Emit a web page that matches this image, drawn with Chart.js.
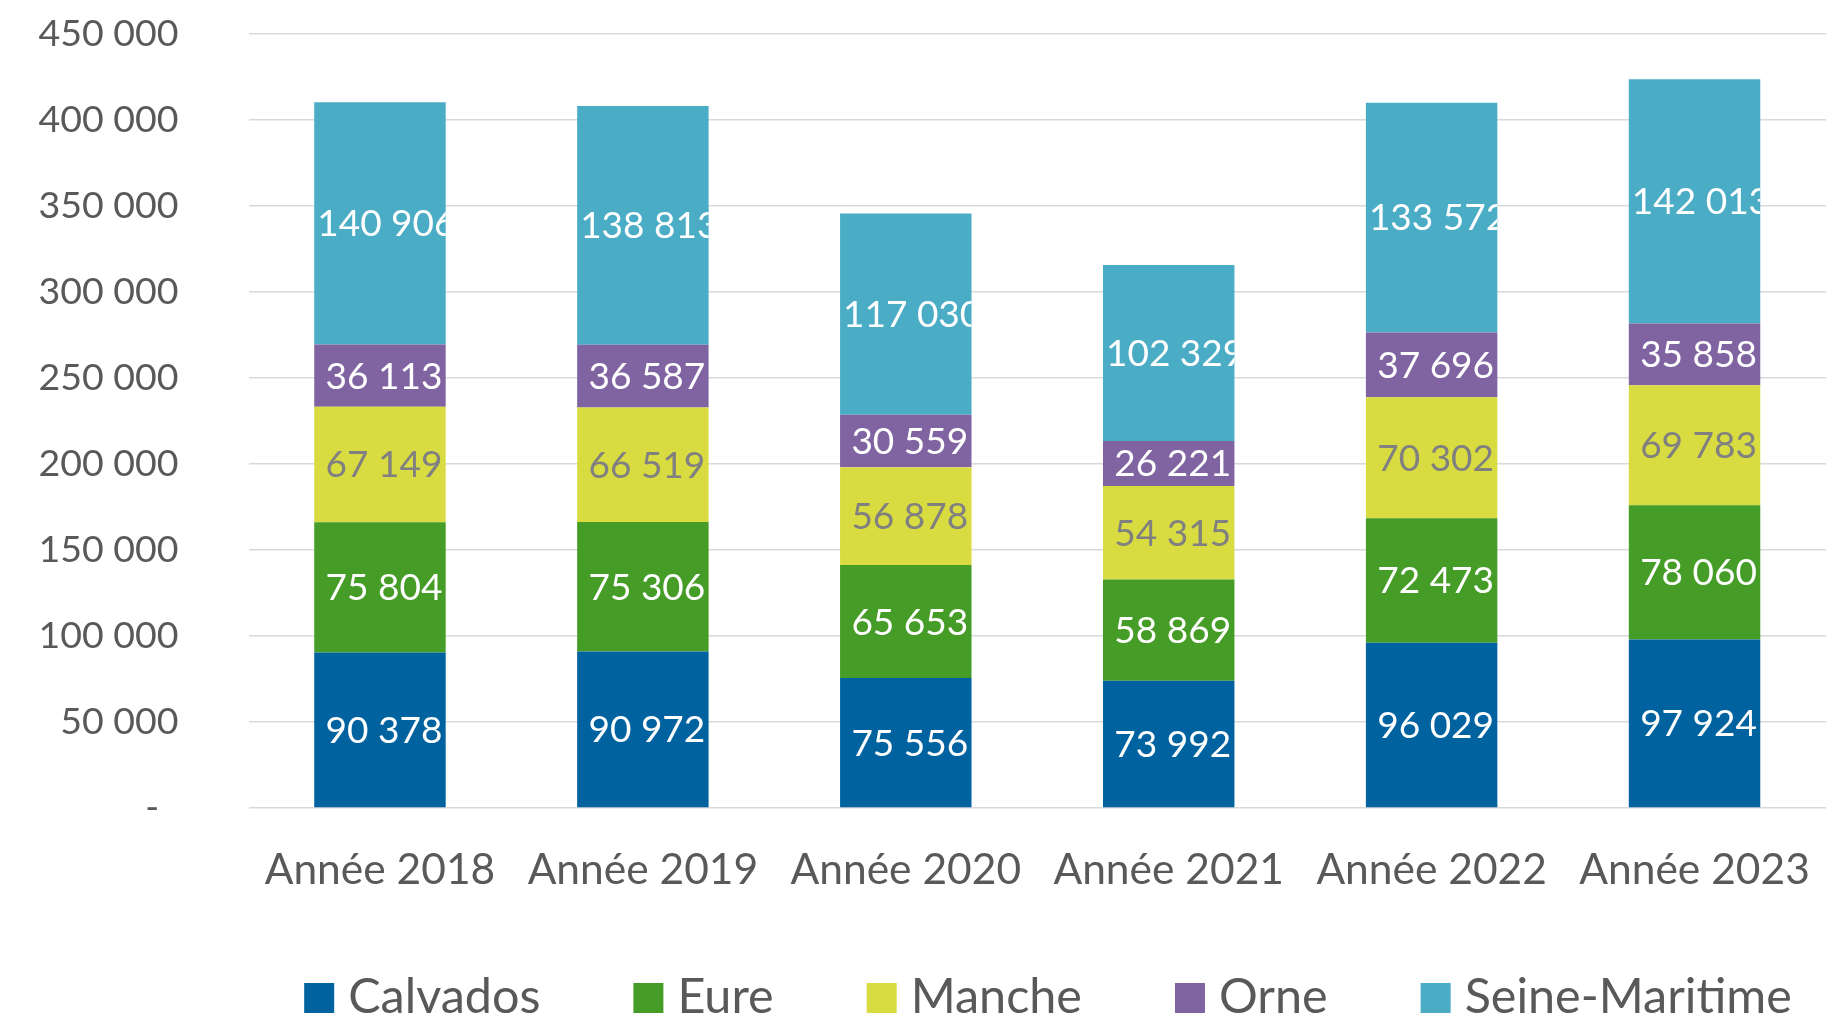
<!DOCTYPE html>
<html>
<head>
<meta charset="utf-8">
<script src="https://cdn.jsdelivr.net/npm/chart.js@4.4.1/dist/chart.umd.min.js"></script>
<style>
html,body{margin:0;padding:0;background:#ffffff;overflow:hidden;}
#wrap{width:1838px;height:1015px;position:relative;}
</style>
</head>
<body>
<div id="wrap"><canvas id="c"></canvas></div>
<script>
// ---- Data ----
const categories = ['Année 2018', 'Année 2019', 'Année 2020', 'Année 2021', 'Année 2022', 'Année 2023'];
const calvados      = [90378, 90972, 75556, 73992, 96029, 97924];
const eure          = [75804, 75306, 65653, 58869, 72473, 78060];
const manche        = [67149, 66519, 56878, 54315, 70302, 69783];
const orne          = [36113, 36587, 30559, 26221, 37696, 35858];
const seineMaritime = [140906, 138813, 117030, 102329, 133572, 142013];
const seriesNames   = ['Calvados', 'Eure', 'Manche', 'Orne', 'Seine-Maritime'];
const yTickValues   = [0, 50000, 100000, 150000, 200000, 250000, 300000, 350000, 400000, 450000];

// ---- Styles ----
const seriesColors = ['#0063A0', '#459C26', '#D9DC40', '#8064A2', '#4BACC6'];
const labelColors  = ['#ffffff', '#ffffff', '#808080', '#ffffff', '#ffffff'];
const FONT = 'Lato';
const TEXT_GREY = '#595959';

function fmt(n) {
  if (n === 0) return '-  ';
  return String(n).replace(/\B(?=(\d{3})+(?!\d))/g, ' ');
}

const seriesValues = [calvados, eure, manche, orne, seineMaritime];
const datasets = seriesNames.map((name, i) => ({
  label: name,
  data: seriesValues[i],
  backgroundColor: seriesColors[i],
  borderWidth: 0,
  barPercentage: 0.5,
  categoryPercentage: 1.0
}));

// Data labels inside segments, clipped to the bar
const dataLabelPlugin = {
  id: 'segLabels',
  afterDatasetsDraw(chart) {
    const ctx = chart.ctx;
    ctx.save();
    ctx.font = '37px ' + FONT;
    ctx.textBaseline = 'middle';
    ctx.textAlign = 'left';
    chart.data.datasets.forEach((ds, di) => {
      const meta = chart.getDatasetMeta(di);
      meta.data.forEach((bar, i) => {
        const v = ds.data[i];
        const txt = fmt(v);
        const left = bar.x - bar.width / 2;
        const top = Math.min(bar.y, bar.base);
        const h = Math.abs(bar.base - bar.y);
        const w = ctx.measureText(txt).width;
        const tx = Math.max(left + 3, bar.x - w / 2 + 4);
        const ty = (bar.y + bar.base) / 2 + 1;
        ctx.save();
        ctx.beginPath();
        ctx.rect(left, top, bar.width, h);
        ctx.clip();
        ctx.fillStyle = labelColors[di];
        ctx.fillText(txt, tx, ty);
        ctx.restore();
      });
    });
    ctx.restore();
  }
};

// Legend row at the bottom
const legendPlugin = {
  id: 'bottomLegend',
  afterDraw(chart) {
    const ctx = chart.ctx;
    ctx.save();
    ctx.font = '48.5px ' + FONT;
    ctx.textBaseline = 'alphabetic';
    ctx.textAlign = 'left';
    const box = 30, gapText = 14, gapItem = 93;
    const widths = chart.data.datasets.map(d => ctx.measureText(d.label).width);
    let total = 0;
    widths.forEach((w, i) => { total += box + gapText + w + (i < widths.length - 1 ? gapItem : 0); });
    let x = 1048 - total / 2;
    const boxTop = 983, baseline = 1013;
    chart.data.datasets.forEach((d, i) => {
      ctx.fillStyle = d.backgroundColor;
      ctx.fillRect(x, boxTop, box, box);
      ctx.fillStyle = TEXT_GREY;
      ctx.fillText(d.label, x + box + gapText, baseline);
      x += box + gapText + widths[i] + gapItem;
    });
    ctx.restore();
  }
};

new Chart(document.getElementById('c'), {
  type: 'bar',
  data: { labels: categories, datasets },
  options: {
    responsive: true,
    maintainAspectRatio: false,
    devicePixelRatio: 1,
    animation: false,
    layout: { padding: { top: 34, right: 12, bottom: 0, left: 0 } },
    plugins: {
      legend: { display: false },
      tooltip: { enabled: false }
    },
    scales: {
      x: {
        stacked: true,
        grid: { display: false, drawTicks: false },
        border: { display: false },
        ticks: {
          font: { family: FONT, size: 42.5 },
          color: TEXT_GREY,
          padding: 37,
          maxRotation: 0,
          autoSkip: false
        },
        afterFit(scale) {
          scale.height = 207;
          scale.paddingLeft = 0;
          scale.paddingRight = 0;
        }
      },
      y: {
        stacked: true,
        min: 0,
        max: 450000,
        afterBuildTicks(scale) { scale.ticks = yTickValues.map(v => ({ value: v })); },
        grid: { color: '#D9D9D9', lineWidth: 1.6, drawTicks: false },
        border: { display: false },
        ticks: {
          font: { family: FONT, size: 37.5 },
          color: TEXT_GREY,
          padding: 70,
          callback: (v) => fmt(v)
        },
        afterFit(scale) {
          scale.width = 248.5;
          scale.paddingTop = 0;
          scale.paddingBottom = 0;
        }
      }
    }
  },
  plugins: [dataLabelPlugin, legendPlugin]
});
</script>
</body>
</html>
